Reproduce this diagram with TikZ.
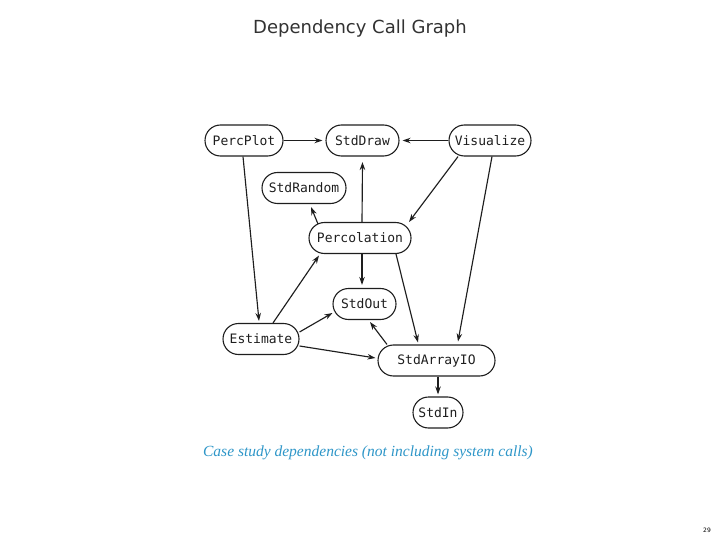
\documentclass[tikz,border=0pt]{standalone}
\usepackage{fontspec}
\setmainfont{Liberation Serif}
\newfontfamily\monofont{DejaVu Sans Mono}
\newfontfamily\titlefont{DejaVu Sans}
\usetikzlibrary{shapes.misc,arrows.meta}
\definecolor{captionblue}{RGB}{46,150,200}
\definecolor{titlegray}{RGB}{50,50,50}
\definecolor{inkgray}{RGB}{30,30,30}
\tikzset{
  modbox/.style={rounded rectangle, draw=inkgray, line width=1.1pt, minimum height=31pt,
    inner xsep=0pt, inner ysep=0pt, text=inkgray, font=\monofont\fontsize{13}{15}\selectfont},
  dep/.style={draw=inkgray, line width=1.15pt, -{Stealth[length=8pt,width=5.5pt]}}
}
\begin{document}
\begin{tikzpicture}[x=1pt,y=-1pt]
\useasboundingbox (0,0) rectangle (720,540);
\node[font=\titlefont\fontsize{18}{21}\selectfont, text=titlegray] (title) at (360,29) {Dependency Call Graph};
\node[modbox, minimum width=78pt] (pp) at (244,140.5) {PercPlot};
\node[modbox, minimum width=73pt] (sd) at (362.5,140.5) {StdDraw};
\node[modbox, minimum width=82pt] (vz) at (490,140.5) {Visualize};
\node[modbox, minimum width=84pt] (sr) at (304,188) {StdRandom};
\node[modbox, minimum width=102pt] (pc) at (360,238) {Percolation};
\node[modbox, minimum width=63pt] (so) at (364.5,304) {StdOut};
\node[modbox, minimum width=76pt] (es) at (261,339) {Estimate};
\node[modbox, minimum width=117pt] (sa) at (436.5,360.5) {StdArrayIO};
\node[modbox, minimum width=50pt] (si) at (438,412.5) {StdIn};
\node[font=\itshape\fontsize{15.5}{18}\selectfont, text=captionblue] (cap) at (368,453) {Case study dependencies (not including system calls)};
\node[font=\titlefont\fontsize{6}{7}\selectfont] (pg) at (707,530) {29};
% edges
\draw[dep] (pp.east) -- ([xshift=-3pt]sd.west);
\draw[dep] (vz.west) -- ([xshift=3pt]sd.east);
\draw[dep] ([xshift=2pt]pc.north) -- ([yshift=-5.5pt]sd.south);
\draw[dep] ([xshift=-42pt,yshift=14pt]pc.center) -- ([xshift=7pt,yshift=-3pt]sr.south);
\draw[dep] ([xshift=-32pt]vz.south) -- ([xshift=49pt]pc.north);
\draw[dep] ([xshift=2pt]vz.south) -- ([xshift=21.5pt,yshift=3pt]sa.north);
\draw[dep] ([xshift=-1pt]pp.south) -- ([xshift=-2pt,yshift=2pt]es.north);
\draw[dep] ([xshift=12pt]es.north) -- ([xshift=-41pt,yshift=-1.5pt]pc.south);
\draw[dep] ([yshift=7pt]es.east) -- ([yshift=-9pt]so.west);
\draw[dep] ([yshift=-7pt]es.east) -- ([xshift=-2pt,yshift=2.5pt]sa.west);
\draw[dep] ([xshift=2pt]pc.south) -- ([xshift=-2.5pt,yshift=3pt]so.north);
\draw[dep] ([xshift=36pt]pc.south) -- ([xshift=-18.5pt,yshift=2pt]sa.north);
\draw[dep] ([xshift=-49.5pt]sa.north) -- ([xshift=5.5pt,yshift=-2pt]so.south);
\draw[dep] ([xshift=1.5pt]sa.south) -- ([yshift=2pt]si.north);
\end{tikzpicture}
\end{document}
